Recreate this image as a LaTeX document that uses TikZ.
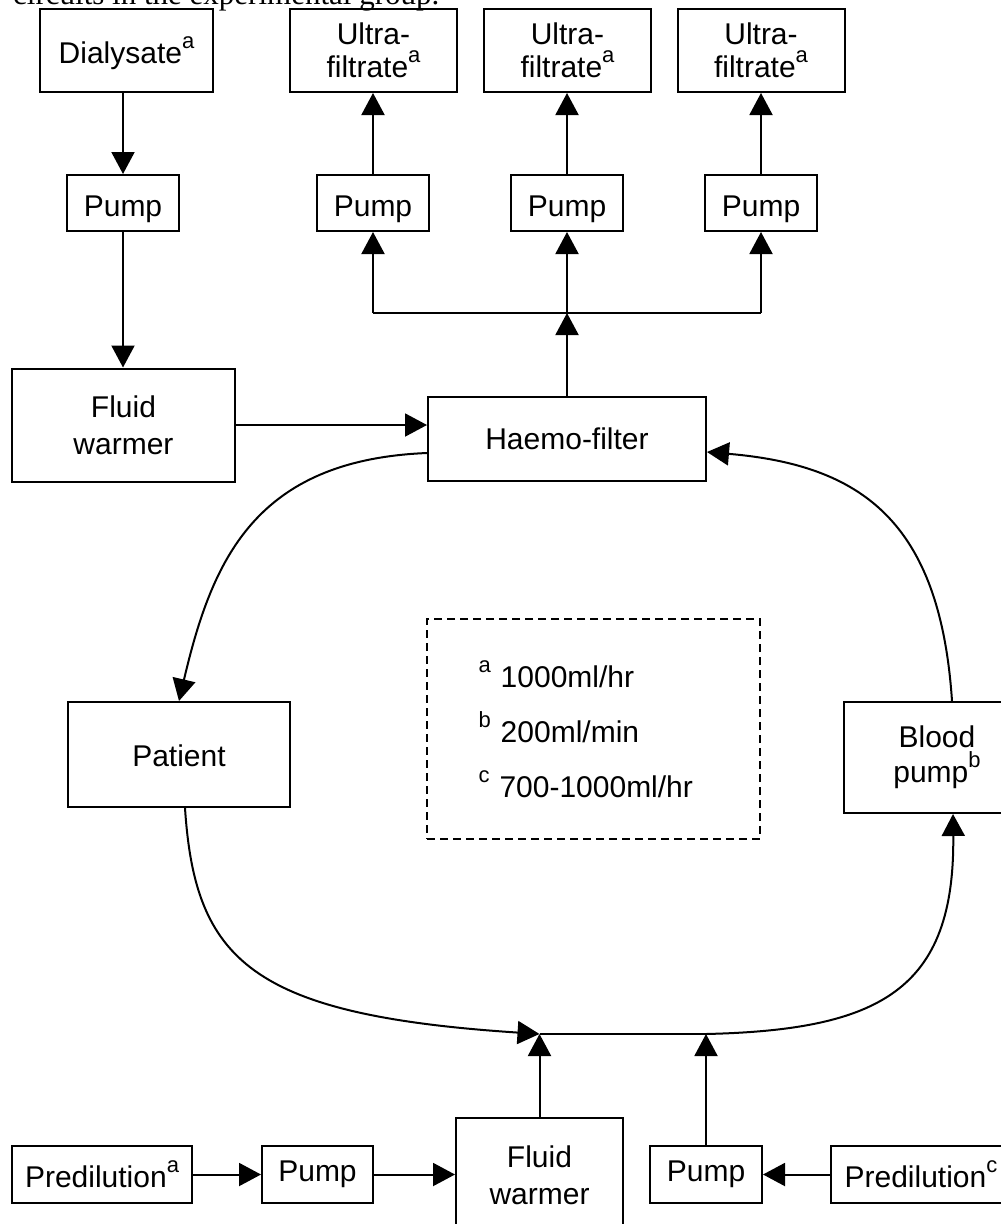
\documentclass[tikz,border=0pt]{standalone}
\usepackage{fontspec}
\setmainfont{Liberation Sans}
\newfontfamily\capfont{Liberation Serif}
\usetikzlibrary{arrows.meta}
\newcommand\supl[1]{\raisebox{15pt}{\fontsize{22}{22}\selectfont #1}}
\begin{document}
\begin{tikzpicture}[x=1pt,y=-1pt,
  bx/.style={draw, line width=2pt, inner sep=0pt, align=center, font=\fontsize{30}{35}\selectfont},
  pumpbox/.style={bx, minimum width=112pt, minimum height=56pt, text height=26pt, text depth=0pt},
  lowpump/.style={bx, minimum height=57pt},
  ufbox/.style={bx, minimum width=167pt, minimum height=83pt, font=\fontsize{30}{33}\selectfont},
  arr/.style={line width=2pt, -{Triangle[length=22pt,width=23pt]}},
  ln/.style={line width=2pt}]
\useasboundingbox (0,0) rectangle (1001,1224);
\clip (0,0) rectangle (1001,1224);

% cut-off caption line at the very top
\node[anchor=base west, inner sep=0pt, font=\capfont\fontsize{31}{31}\selectfont] (cap) at (13,4) {circuits in the experimental group.};

% top row
\node[bx, minimum width=173pt, minimum height=83pt, text depth=0pt] (dial) at (126.5,50.5) {Dialysate\supl{a}};
\node[ufbox] (uf1) at (373.5,50.5) {Ultra-\\filtrate\supl{a}};
\node[ufbox] (uf2) at (567.5,50.5) {Ultra-\\filtrate\supl{a}};
\node[ufbox] (uf3) at (761,50.5) {Ultra-\\filtrate\supl{a}};

\node[pumpbox] (p0) at (123,203) {Pump};
\node[pumpbox] (p1) at (373,203) {Pump};
\node[pumpbox] (p2) at (567,203) {Pump};
\node[pumpbox] (p3) at (761,203) {Pump};

\node[bx, minimum width=223pt, minimum height=113pt, font=\fontsize{30}{37}\selectfont] (fw1) at (123.5,425) {Fluid\\warmer};
\node[bx, minimum width=278pt, minimum height=84pt] (hf) at (567,439) {Haemo-filter};

% middle
\node[bx, minimum width=222pt, minimum height=105pt, text depth=0pt, text height=24pt] (pat) at (179,754.5) {Patient};
\node[bx, minimum width=186pt, minimum height=111pt] (bp) at (937,757.5) {Blood\\pump\supl{b}};
\node[draw, dash pattern=on 8pt off 5pt, line width=1.6pt, inner sep=0pt,
      minimum width=333pt, minimum height=220pt, text width=230pt, align=left,
      font=\fontsize{30}{55}\selectfont] (legend) at (593.5,729)
      {\supl{a} 1000ml/hr\\\supl{b} 200ml/min\\\supl{c} 700-1000ml/hr};

% bottom row
\node[bx, minimum width=180pt, minimum height=57pt] (pa) at (102,1174.5) {Predilution\supl{a}};
\node[lowpump, minimum width=111pt] (pp1) at (317.5,1174.5) {Pump};
\node[bx, minimum width=167pt, minimum height=114pt, font=\fontsize{30}{37}\selectfont] (fw2) at (539.5,1175) {Fluid\\warmer};
\node[lowpump, minimum width=112pt] (pp2) at (706,1174.5) {Pump};
\node[bx, minimum width=180pt, minimum height=57pt] (pc) at (921,1174.5) {Predilution\supl{c}};

% top connectors
\draw[arr] (dial.south -| p0.north) -- (p0.north);
\draw[arr] (p0.south) -- (p0.south |- fw1.north);
\draw[arr] (fw1.east) -- (fw1.east -| hf.west);
\coordinate (jt) at (567,313);
\draw[arr] (hf.north) -- (jt);
\draw[ln] (jt -| p1) -- (jt -| p3);
\draw[arr] (jt -| p1) -- (p1.south);
\draw[arr] (jt -| p2) -- (p2.south);
\draw[arr] (jt -| p3) -- (p3.south);
\draw[arr] (p1.north) -- (p1.north |- uf1.south);
\draw[arr] (p2.north) -- (p2.north |- uf2.south);
\draw[arr] (p3.north) -- (p3.north |- uf3.south);

% circulation loop
\coordinate (jb1) at (539.5,1034);
\coordinate (jb2) at (706,1034);
\draw[arr] ([yshift=-14pt]hf.west) .. controls (255,460) and (212,560) .. (pat.north);
\draw[arr] ([xshift=6pt]pat.south) .. controls (195,960) and (250,1015) .. (jb1);
\draw[ln] (jb1) -- (jb2);
\draw[arr] (jb2) .. controls (880,1030) and (955,990) .. ([xshift=16pt]bp.south);
\draw[arr] ([xshift=15pt]bp.north) .. controls (940,520) and (860,465) .. ([yshift=-13pt]hf.east);

% bottom connectors
\draw[arr] (fw2.north) -- (jb1);
\draw[arr] (pp2.north) -- (jb2);
\draw[arr] (pa.east) -- (pp1.west);
\draw[arr] (pp1.east) -- (pp1.east -| fw2.west);
\draw[arr] (pc.west) -- (pp2.east);
\end{tikzpicture}
\end{document}
